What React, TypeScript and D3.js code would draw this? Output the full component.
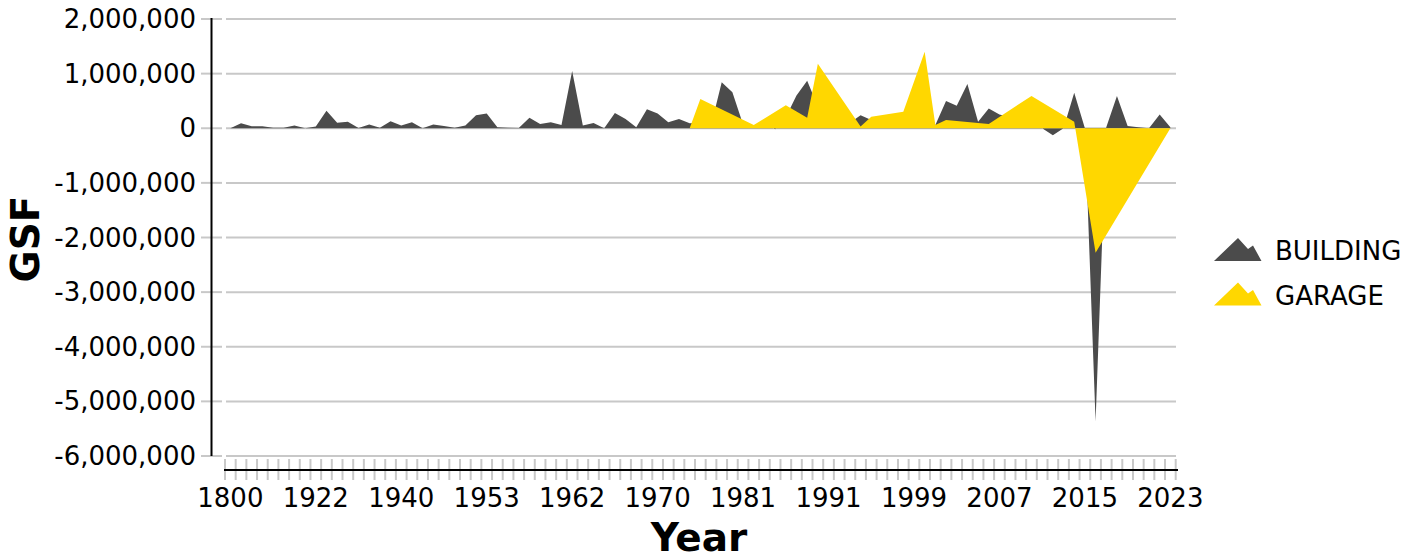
import React from "react";
import * as d3 from "d3";

const years: string[] = [
  "1800","1865","1880","1890","1900","1908","1912","1917",
  "1922","1923","1925","1927","1929","1930","1932","1936",
  "1940","1941","1946","1947","1948","1949","1950","1951",
  "1953","1954","1955","1956","1957","1958","1959","1960",
  "1962","1963","1964","1965","1966","1967","1968","1969",
  "1970","1971","1972","1973","1974","1976","1978","1979",
  "1981","1982","1983","1984","1985","1987","1988","1990",
  "1991","1992","1993","1994","1995","1996","1997","1998",
  "1999","2000","2001","2002","2003","2004","2005","2006",
  "2007","2008","2009","2010","2011","2012","2013","2014",
  "2015","2016","2017","2018","2019","2020","2021","2022",
  "2023",
];

const buildingGSF: number[] = [
  0, 90000, 35000, 35000, 10000, 10000, 50000, 0,
  30000, 320000, 100000, 120000, 5000, 70000, 10000, 130000,
  50000, 110000, 0, 70000, 40000, 10000, 50000, 240000,
  270000, 20000, 10000, 5000, 190000, 80000, 110000, 60000,
  1050000, 50000, 95000, 0, 280000, 170000, 20000, 350000,
  270000, 110000, 170000, 90000, 100000, 50000, 840000, 660000,
  70000, 40000, 100000, -20000, 200000, 600000, 870000, 400000,
  300000, 200000, 100000, 240000, 150000, 100000, 200000, 150000,
  100000, 50000, 60000, 500000, 410000, 810000, 120000, 360000,
  250000, 200000, 150000, 100000, 0, -130000, 0, 650000,
  0, -5370000, 20000, 590000, 40000, 20000, 0, 250000,
  20000,
];

const N = null;
const garageGSF: (number | null)[] = [
  N, N, N, N, N, N, N, N,
  N, N, N, N, N, N, N, N,
  N, N, N, N, N, N, N, N,
  N, N, N, N, N, N, N, N,
  N, N, N, N, N, N, N, N,
  N, N, N, 0, 535000, N, N, N,
  N, 60000, N, N, 420000, N, 190000, 1180000,
  N, N, N, 30000, 210000, N, N, 300000,
  N, 1400000, 60000, 150000, N, N, N, 80000,
  N, N, N, 590000, N, N, N, 120000,
  N, -2280000, N, N, N, N, N, N,
  0,
];

const xTickLabels: string[] = ["1800","1922","1940","1953","1962","1970","1981","1991","1999","2007","2015","2023"];
const yTickValues: number[] = [2000000, 1000000, 0, -1000000, -2000000, -3000000, -4000000, -5000000, -6000000];

const seriesNames = ["BUILDING", "GARAGE"];
const seriesColors = ["#4b4b4b", "#ffd700"];

const FONT = "'DejaVu Sans', sans-serif";

export default function App() {
  const W = 1414, H = 557;
  const x = d3.scaleBand<string>().domain(years).range([225, 1175.7]).paddingInner(0).paddingOuter(0);
  const bw = x.bandwidth();
  const cx = (yr: string) => (x(yr) as number) + bw / 2;
  const y = d3.scaleLinear().domain([-6000000, 2000000]).range([456, 19]);
  const fmt = (v: number) => d3.format(",")(v).replace("\u2212", "-");

  const bData = years.map((yr, i) => ({ yr, v: buildingGSF[i] }));
  const gData = years.map((yr, i) => ({ yr, v: garageGSF[i] })).filter((d) => d.v !== null) as { yr: string; v: number }[];

  const area = d3
    .area<{ yr: string; v: number }>()
    .x((d) => cx(d.yr))
    .y0(y(0))
    .y1((d) => y(d.v));

  const tickEdges = years.map((yr) => x(yr) as number).concat([(x(years[years.length - 1]) as number) + bw]);

  const legendShape = (x0: number, yb: number) =>
    `M${x0},${yb} L${x0 + 24},${yb - 23} L${x0 + 34},${yb - 12} L${x0 + 39},${yb - 15.5} L${x0 + 47.5},${yb} Z`;

  return (
    <svg width={W} height={H} style={{ position: "absolute", left: 0, top: 0, fontFamily: FONT }}>
      <rect width={W} height={H} fill="#ffffff" />
      {/* gridlines */}
      {yTickValues.map((v) => (
        <line key={"g" + v} x1={226} x2={1176} y1={y(v)} y2={y(v)} stroke="#c8c8c8" strokeWidth={2} />
      ))}
      {/* y ticks */}
      {yTickValues.map((v) => (
        <line key={"yt" + v} x1={201} x2={222} y1={y(v)} y2={y(v)} stroke="#c8c8c8" strokeWidth={2} />
      ))}
      {/* areas */}
      <path d={area(bData) as string} fill={seriesColors[0]} />
      <path d={area(gData) as string} fill={seriesColors[1]} />
      {/* y axis */}
      <line x1={211.5} x2={211.5} y1={18} y2={456} stroke="#000" strokeWidth={2} />
      {yTickValues.map((v) => (
        <text key={"yl" + v} x={196} y={y(v)} textAnchor="end" dominantBaseline="central" fontSize={26} fill="#000">
          {fmt(v)}
        </text>
      ))}
      {/* x ticks */}
      {tickEdges.map((tx, i) => (
        <line key={"xt" + i} x1={tx} x2={tx} y1={459} y2={480} stroke="#c8c8c8" strokeWidth={2} />
      ))}
      <line x1={224} x2={1178} y1={470} y2={470} stroke="#000" strokeWidth={2} />
      {years.filter((yr) => xTickLabels.includes(yr)).map((yr) => (
        <text key={"xl" + yr} x={cx(yr)} y={507} textAnchor="middle" fontSize={26} fill="#000">
          {yr}
        </text>
      ))}
      {/* titles */}
      <text x={699} y={551} textAnchor="middle" fontSize={39} fontWeight="bold" fill="#000">Year</text>
      <text transform="translate(39,239) rotate(-90)" textAnchor="middle" fontSize={39} fontWeight="bold" fill="#000">GSF</text>
      {/* legend */}
      {seriesNames.map((name, i) => (
        <g key={name}>
          <path d={legendShape(1214, 261 + i * 44.5)} fill={seriesColors[i]} />
          <text x={1275} y={260 + i * 45} fontSize={26} fill="#000">{name}</text>
        </g>
      ))}
    </svg>
  );
}
